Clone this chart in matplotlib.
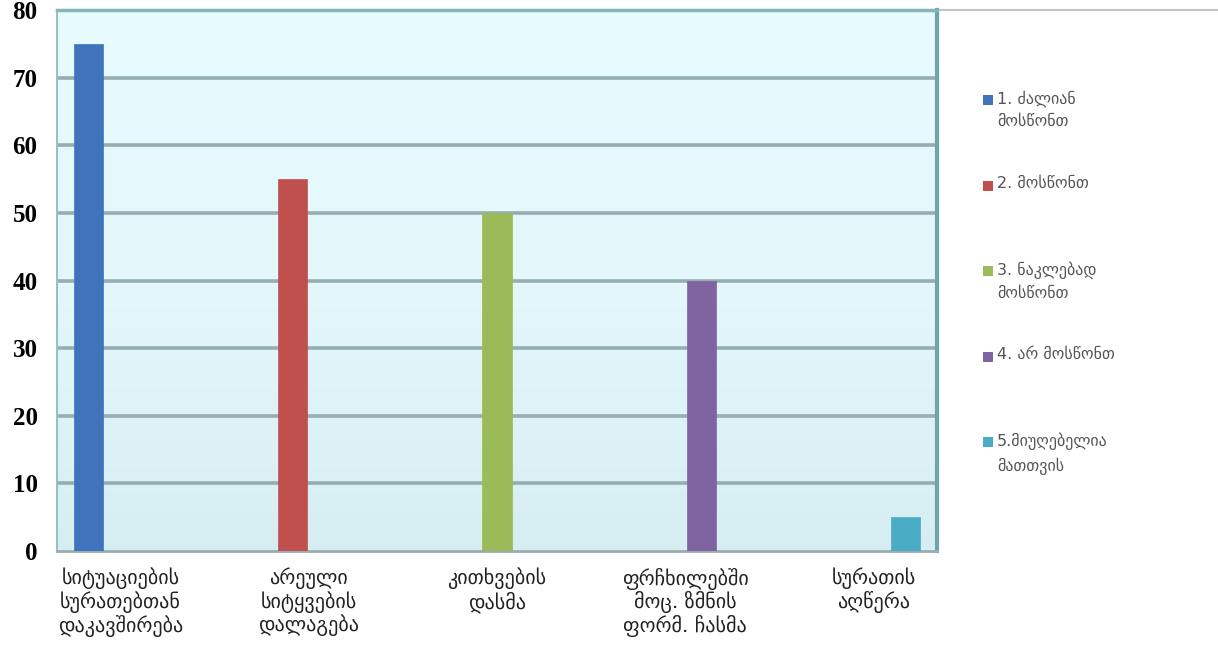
import numpy as np
import matplotlib
matplotlib.use("Agg")
import matplotlib.pyplot as plt
from matplotlib.patches import Rectangle
from matplotlib.lines import Line2D
from matplotlib.colors import LinearSegmentedColormap

categories = [
    "სიტუაციების\nსურათებთან\nდაკავშირება",
    "არეული\nსიტყვების\nდალაგება",
    "კითხვების\nდასმა",
    "ფრჩხილებში\nმოც. ზმნის\nფორმ. ჩასმა",
    "სურათის\nაღწერა",
]
series_labels = [
    "1. ძალიან\nმოსწონთ",
    "2. მოსწონთ",
    "3. ნაკლებად\nმოსწონთ",
    "4. არ მოსწონთ",
    "5.მიუღებელია\nმათთვის",
]
values = [75, 55, 50, 40, 5]
colors = ["#3f74bd", "#c0504d", "#9bbb59", "#8064a2", "#4bacc6"]
yticks = [0, 10, 20, 30, 40, 50, 60, 70, 80]

W, H = 1218, 646
fig = plt.figure(figsize=(W / 100, H / 100), dpi=100)
fig.patch.set_facecolor("white")
ax = fig.add_axes([57 / W, 1 - 551 / H, (937 - 57) / W, (551 - 10) / H])

# gradient background
grad = np.linspace(0, 1, 256).reshape(-1, 1)
cmap = LinearSegmentedColormap.from_list("bg", ["#d6eef2", "#e4f8fc", "#e8fbfe"])
ax.imshow(grad, extent=[0, 1, 0, 1], transform=ax.transAxes, cmap=cmap,
          aspect="auto", origin="lower", zorder=0)

n = len(categories)
step = 0.16
width = 0.165
x = np.arange(n)
for i, (v, c) in enumerate(zip(values, colors)):
    ax.bar(x[i] + (i - (n - 1) / 2) * step, v, width=width, color=c,
           edgecolor=c, linewidth=0.5, zorder=3)

ax.set_xlim(-0.5, n - 0.5)
ax.set_ylim(0, 80)
ax.set_yticks(yticks)
ax.set_yticklabels([str(t) for t in yticks], fontfamily="Liberation Serif",
                   fontsize=18, fontweight="bold")
ax.set_xticks(x + (x - (n - 1) / 2) * 0.07)
ax.set_xticklabels(categories, fontfamily="DejaVu Sans", fontsize=14.5,
                   linespacing=1.1, color="#222222")
ax.tick_params(axis="y", length=0, pad=14)
ax.tick_params(axis="x", length=0, pad=12)
for t in yticks[1:-1]:
    ax.axhline(t, color="#94aeb2", linewidth=2.6, zorder=1)

ax.spines["top"].set_color("#86b4bb")
ax.spines["top"].set_linewidth(2.5)
ax.spines["right"].set_color("#6ea5ad")
ax.spines["right"].set_linewidth(3)
ax.spines["left"].set_color("#9dbfc4")
ax.spines["left"].set_linewidth(1.5)
ax.spines["bottom"].set_color("#9aaeb2")
ax.spines["bottom"].set_linewidth(2)

# thin grey line to the right (legend frame top)
fig.add_artist(Line2D([940 / W, 1.0], [1 - 10 / H, 1 - 10 / H],
                      color="#c4c4c4", linewidth=1.5))

# legend
y0 = 100
ystep = 85.5
for i, (lab, c) in enumerate(zip(series_labels, colors)):
    yc = y0 + i * ystep
    fig.add_artist(Rectangle((983 / W, 1 - (yc + 5) / H), 10 / W, 10 / H,
                             facecolor=c, edgecolor="none",
                             transform=fig.transFigure))
    fig.text(997 / W, 1 - (yc - 10) / H, lab, fontfamily="DejaVu Sans",
             fontsize=11.5, color="#555555", va="top", ha="left",
             linespacing=1.6)

fig.savefig("out.png", dpi=100)
